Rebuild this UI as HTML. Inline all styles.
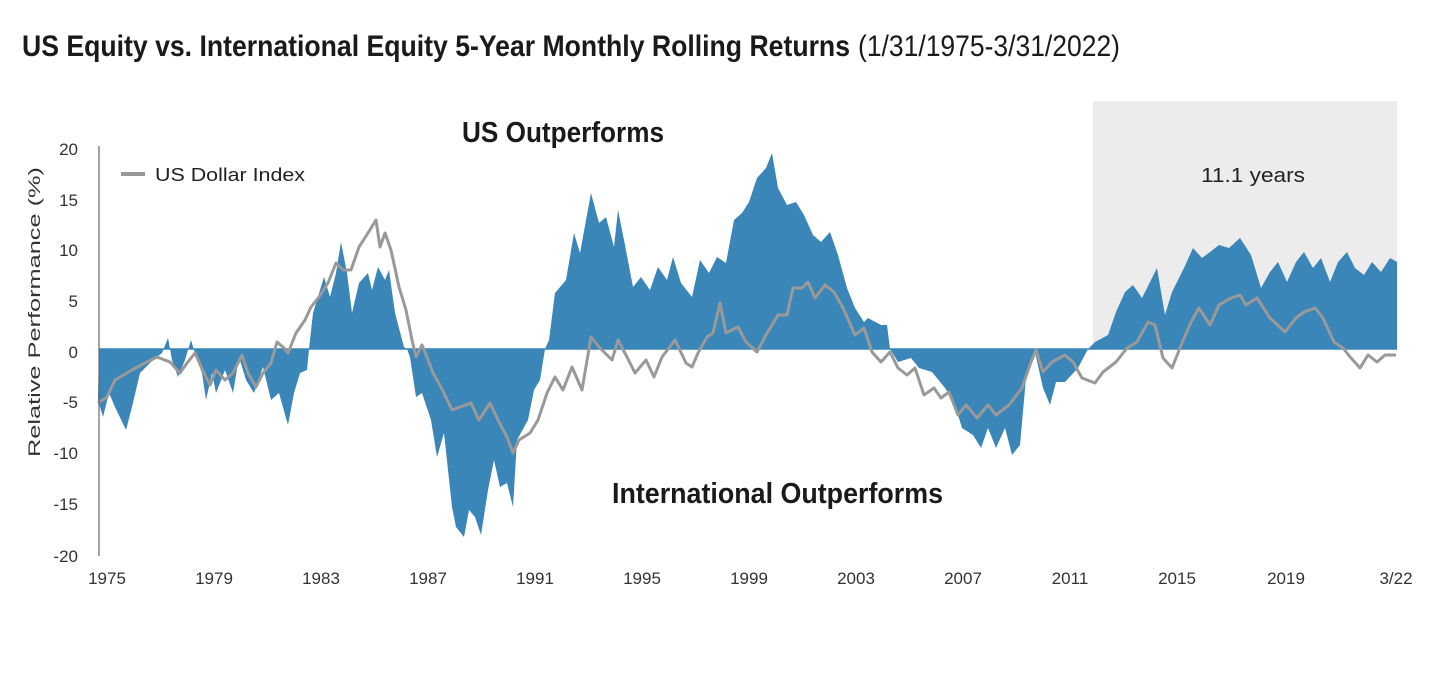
<!DOCTYPE html>
<html><head><meta charset="utf-8"><style>html,body{margin:0;padding:0;background:#fff}svg{display:block}</style></head>
<body>
<svg width="1429" height="682" viewBox="0 0 1429 682" xmlns="http://www.w3.org/2000/svg" font-family="'Liberation Sans', sans-serif">
<rect x="1093" y="101" width="304" height="248" fill="#ececec"/>
<text x="22" y="56" font-family="'Liberation Sans Narrow','Liberation Sans',sans-serif" font-weight="bold" font-size="30" fill="#1a1a1a" textLength="828" lengthAdjust="spacingAndGlyphs">US Equity vs. International Equity 5-Year Monthly Rolling Returns</text>
<text x="858" y="56" font-family="'Liberation Sans Narrow','Liberation Sans',sans-serif" font-size="30" fill="#1a1a1a" textLength="262" lengthAdjust="spacingAndGlyphs">(1/31/1975-3/31/2022)</text>
<path fill="#3a86b8" d="M99,349 L98,400 103,417 109,393 115,407 126,430 132,407 140,373 153,360 162,353 168,338 172,360 178,377 185,360 191,340 197,360 202,373 206,400 212,373 216,393 225,370 233,393 239,357 246,380 254,393 263,367 271,400 279,393 288,425 294,393 300,373 307,370 309,349 313,313 324,277 330,297 336,273 341,242 347,273 352,313 359,283 368,273 372,290 378,267 385,280 389,270 395,313 404,347 407,349 410,357 416,397 422,393 431,420 437,457 444,433 452,507 456,527 464,537 469,510 475,517 481,535 488,490 494,460 500,487 507,483 513,507 517,440 528,420 534,390 540,380 545,349 549,340 555,293 566,280 574,233 580,253 591,193 599,223 606,217 614,247 618,210 624,240 633,287 641,277 650,290 658,267 667,280 673,257 681,283 692,297 700,260 709,273 717,257 726,263 734,220 742,213 749,202 757,178 766,168 772,153 778,188 787,205 796,202 804,215 813,235 821,242 830,232 838,255 847,288 855,308 864,322 868,318 881,325 887,325 890,349 898,362 911,358 919,368 932,372 945,388 954,402 962,428 973,435 981,448 988,428 996,448 1005,428 1012,455 1020,445 1026,378 1035,352 1043,388 1050,405 1056,382 1065,382 1078,368 1088,349 1095,342 1108,335 1116,312 1125,292 1133,285 1142,298 1150,282 1157,268 1165,315 1172,292 1184,268 1193,248 1202,258 1210,252 1219,245 1229,248 1240,238 1251,255 1261,288 1270,272 1278,262 1287,282 1296,262 1304,252 1313,268 1321,258 1330,282 1338,262 1347,252 1355,268 1364,275 1372,262 1381,272 1390,258 1397,262 1397,349 Z"/>
<line x1="99" y1="349" x2="1397" y2="349" stroke="#3a86b8" stroke-width="1.5"/>
<polyline fill="none" stroke="#999" stroke-width="3" stroke-linejoin="round" points="98,403 107,397 115,380 132,370 145,363 157,357 170,362 180,373 187,363 195,353 204,373 210,385 216,370 225,380 233,373 242,355 248,373 256,387 263,373 271,363 277,342 284,348 288,353 296,333 305,320 311,307 319,297 328,283 336,263 343,270 351,270 359,247 368,233 376,220 380,247 385,233 391,250 399,287 406,310 412,340 416,357 422,345 427,357 433,373 441,387 452,410 460,407 471,403 479,420 490,403 498,420 507,437 513,453 519,440 530,433 538,420 547,393 555,377 563,390 572,367 582,390 591,337 599,347 612,360 618,340 627,357 635,373 646,360 654,377 662,357 675,340 686,363 692,367 698,353 707,337 713,333 720,303 726,333 738,327 746,342 757,352 766,335 778,315 787,315 793,288 802,288 808,282 815,298 825,285 834,292 843,308 855,335 864,328 872,352 881,362 890,352 898,368 907,375 915,368 924,395 934,388 941,398 949,392 958,415 966,405 977,418 988,405 996,415 1009,405 1022,388 1031,362 1036,350 1043,372 1052,362 1065,355 1073,362 1082,378 1095,383 1103,372 1116,362 1127,348 1137,342 1148,322 1155,325 1163,358 1172,368 1180,348 1191,322 1199,308 1210,325 1219,305 1231,298 1240,295 1246,305 1257,298 1270,318 1285,332 1296,318 1304,312 1315,308 1323,318 1334,342 1343,348 1351,358 1360,368 1368,355 1377,362 1385,355 1396,355"/>
<line x1="99" y1="146" x2="99" y2="556" stroke="#666" stroke-width="1.2"/>
<g font-size="17" fill="#333" text-anchor="end">
<text x="78" y="155">20</text><text x="78" y="206">15</text><text x="78" y="256">10</text><text x="78" y="307">5</text><text x="78" y="358">0</text><text x="78" y="408">-5</text><text x="78" y="459">-10</text><text x="78" y="510">-15</text><text x="78" y="562">-20</text>
</g>
<g font-size="17" fill="#333" text-anchor="middle">
<text x="107" y="584">1975</text><text x="214" y="584">1979</text><text x="321" y="584">1983</text><text x="428" y="584">1987</text><text x="535" y="584">1991</text><text x="642" y="584">1995</text><text x="749" y="584">1999</text><text x="856" y="584">2003</text><text x="963" y="584">2007</text><text x="1070" y="584">2011</text><text x="1177" y="584">2015</text><text x="1286" y="584">2019</text><text x="1396" y="584">3/22</text>
</g>
<text transform="translate(40,312) rotate(-90)" font-size="17" fill="#333" text-anchor="middle" textLength="290" lengthAdjust="spacingAndGlyphs">Relative Performance (%)</text>
<line x1="121" y1="174" x2="145" y2="174" stroke="#999" stroke-width="4"/>
<text x="155" y="181" font-size="18" fill="#222" textLength="150" lengthAdjust="spacingAndGlyphs">US Dollar Index</text>
<text x="1201" y="182" font-size="20" fill="#222" textLength="104" lengthAdjust="spacingAndGlyphs">11.1 years</text>
<text x="462" y="142" font-family="'Liberation Sans Narrow','Liberation Sans',sans-serif" font-weight="bold" font-size="29" fill="#1a1a1a" textLength="202" lengthAdjust="spacingAndGlyphs">US Outperforms</text>
<text x="612" y="503" font-family="'Liberation Sans Narrow','Liberation Sans',sans-serif" font-weight="bold" font-size="29" fill="#1a1a1a" textLength="331" lengthAdjust="spacingAndGlyphs">International Outperforms</text>
</svg>
</body></html>
